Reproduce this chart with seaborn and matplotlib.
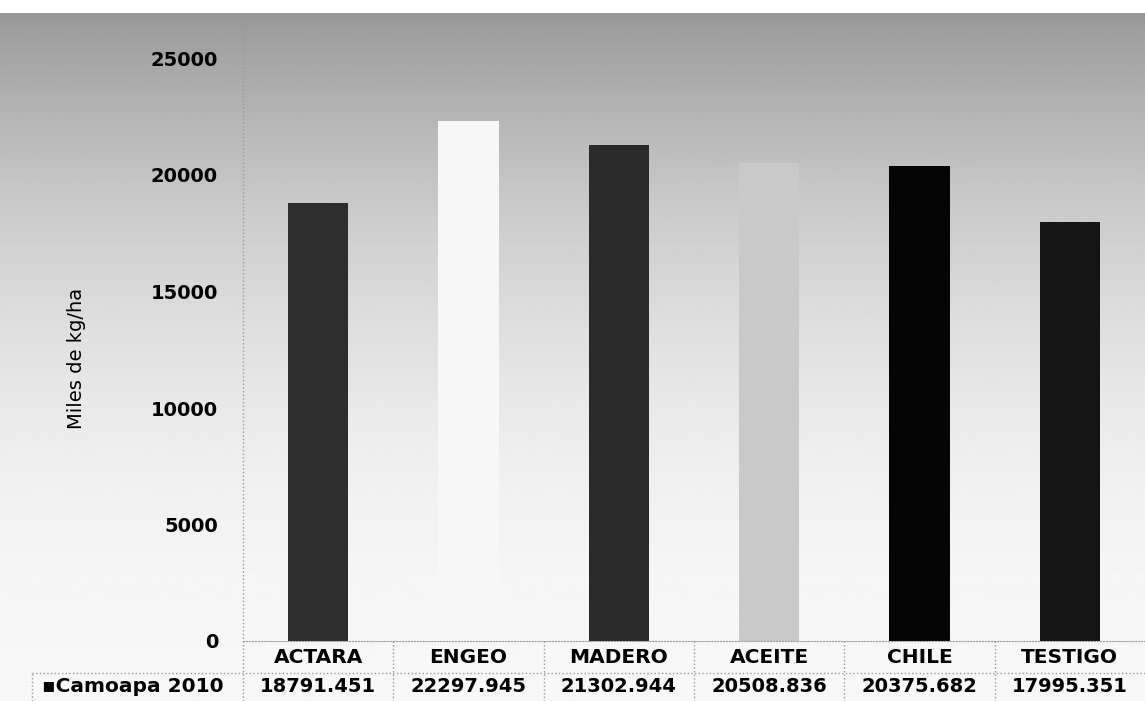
import numpy as np
import pandas as pd
import matplotlib.pyplot as plt
import seaborn as sns
from matplotlib.lines import Line2D

tratamientos = ['ACTARA', 'ENGEO', 'MADERO', 'ACEITE', 'CHILE', 'TESTIGO']
rendimiento = [18791.451, 22297.945, 21302.944, 20508.836, 20375.682, 17995.351]
etiquetas_valor = ['18791.451', '22297.945', '21302.944', '20508.836', '20375.682', '17995.351']
serie = 'Camoapa 2010'
colores = ['#2e2e2e', '#f7f7f7', '#2a2a2a', '#c9c9c9', '#050505', '#141414']
y_ticks = [0, 5000, 10000, 15000, 20000, 25000]

sns.set_style('white')
plt.rcParams['font.family'] = ['DejaVu Sans']
plt.rcParams['text.color'] = 'black'
plt.rcParams['xtick.color'] = 'black'
plt.rcParams['ytick.color'] = 'black'

W, H = 1145, 701
fig = plt.figure(figsize=(W / 100, H / 100), dpi=100)
fig.patch.set_facecolor('white')

# fondo degradado gris (área del gráfico)
top_bg = 13
bg = fig.add_axes([0, 0, 1, (H - top_bg) / H], zorder=0)
grad = np.linspace(0.0, 1.0, 256)
shade = 0.6 + 0.37 * (1 - (1 - grad) ** 2.2)
shade = shade[:, None]
bg.imshow(shade, cmap='gray', vmin=0, vmax=1, aspect='auto', extent=[0, 1, 0, 1], origin='upper')
bg.set_axis_off()

# ejes principales
x0, y0, y25 = 243, 641, 58.5
ax = fig.add_axes([x0 / W, (H - y0) / H, (W - x0) / W, (y0 - y25) / H], zorder=1)
ax.patch.set_alpha(0)

df = pd.DataFrame({'tratamiento': tratamientos, 'valor': rendimiento})
sns.barplot(data=df, x='tratamiento', y='valor', hue='tratamiento',
            palette=colores, width=0.4, legend=False, saturation=1,
            linewidth=0, ax=ax)

ax.set_ylim(0, 25000)
ax.set_xlim(-0.5, len(tratamientos) - 0.5)
ax.set_yticks(y_ticks)
ax.set_yticklabels([str(v) for v in y_ticks], fontsize=14, fontweight='bold')
ax.tick_params(axis='y', length=0, pad=18)
ax.set_xlabel('')
ax.set_ylabel('')
ax.set_xticks(range(len(tratamientos)))
ax.set_xticklabels(tratamientos, fontsize=14.5, fontweight='bold')
ax.tick_params(axis='x', length=0, pad=5)

fig.text(76 / W, 1 - 358 / H, 'Miles de kg/ha', rotation=90, ha='center', va='center',
         fontsize=14)

for s in ['top', 'right', 'left']:
    ax.spines[s].set_visible(False)
ax.spines['bottom'].set_color('#9a9a9a')
ax.spines['bottom'].set_linestyle(':')

# tabla de datos debajo del gráfico
tr = ax.get_xaxis_transform()
fila_val = -(687 - y0) / (y0 - y25)
for i, txt in enumerate(etiquetas_valor):
    ax.text(i, fila_val, txt, transform=tr, ha='center', va='center',
            fontsize=14, fontweight='bold', clip_on=False)
fig.text(42 / W, 1 - 687 / H, '\u25aa' + serie, ha='left', va='center',
         fontsize=14.5, fontweight='bold')

linea = dict(color='#9a9a9a', linestyle=':', linewidth=1)
y_tab = 1 - 673 / H
y_bot = -(H - y0) / (y0 - y25)
for i in range(1, len(tratamientos)):
    ax.plot([i - 0.5, i - 0.5], [0, y_bot], transform=tr, clip_on=False, **linea)
fig.add_artist(Line2D([32 / W, 1], [y_tab, y_tab], transform=fig.transFigure, **linea))
fig.add_artist(Line2D([x0 / W, x0 / W], [0, (H - top_bg) / H], transform=fig.transFigure, **linea))
fig.add_artist(Line2D([32 / W, 32 / W], [0, y_tab], transform=fig.transFigure, **linea))

fig.savefig('out.png', dpi=100)
